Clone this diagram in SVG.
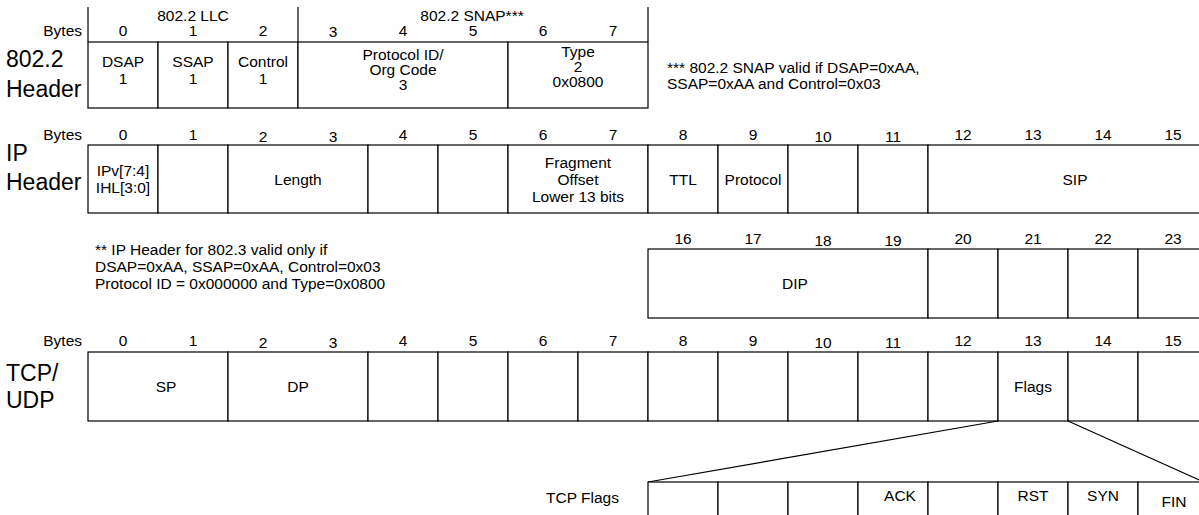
<svg xmlns="http://www.w3.org/2000/svg" width="1199" height="515" viewBox="0 0 1199 515">
<style>
.c{fill:#fff;stroke:#000;stroke-width:1.2}
.l{stroke:#000;stroke-width:1.2;fill:none}
text{font-family:"Liberation Sans",Arial,sans-serif;font-size:15.5px;fill:#000}
.m{text-anchor:middle}
.e{text-anchor:end}
.big{font-size:23px}
</style>
<rect width="1199" height="515" fill="#fff"/>

<g id="hdr8022">
<text class="big" x="6" y="67">802.2</text>
<text class="big" x="6" y="97">Header</text>
<text class="e" x="82" y="36">Bytes</text>
<text class="m" x="193" y="21">802.2 LLC</text>
<text class="m" x="472" y="21">802.2 SNAP***</text>
<text class="m" x="123" y="36">0</text><text class="m" x="193" y="36">1</text><text class="m" x="263" y="36">2</text><text class="m" x="333" y="37">3</text>
<text class="m" x="403" y="36">4</text><text class="m" x="473" y="36">5</text><text class="m" x="543" y="36">6</text><text class="m" x="613" y="36">7</text>
<line class="l" x1="88" y1="7" x2="88" y2="42"/><line class="l" x1="298" y1="7" x2="298" y2="42"/><line class="l" x1="648" y1="7" x2="648" y2="42"/>
</g>
<g id="dsap"><rect class="c" x="88" y="42" width="70" height="66"/><text class="m" x="123" y="67">DSAP</text><text class="m" x="123" y="84">1</text></g>
<g id="ssap"><rect class="c" x="158" y="42" width="70" height="66"/><text class="m" x="193" y="67">SSAP</text><text class="m" x="193" y="84">1</text></g>
<g id="control"><rect class="c" x="228" y="42" width="70" height="66"/><text class="m" x="263" y="67">Control</text><text class="m" x="263" y="84">1</text></g>
<g id="protoid"><rect class="c" x="298" y="42" width="210" height="66"/><text class="m" x="403" y="60">Protocol ID/</text><text class="m" x="403" y="75">Org Code</text><text class="m" x="403" y="90">3</text></g>
<g id="type"><rect class="c" x="508" y="42" width="140" height="66"/><text class="m" x="578" y="57">Type</text><text class="m" x="578" y="72">2</text><text class="m" x="578" y="87">0x0800</text></g>
<g id="snapnote"><text x="667" y="73">*** 802.2 SNAP valid if DSAP=0xAA,</text><text x="667" y="89">SSAP=0xAA and Control=0x03</text></g>

<g id="hdrip">
<text class="big" x="6" y="161">IP</text>
<text class="big" x="6" y="190">Header</text>
<text class="e" x="82" y="140">Bytes</text>
<text class="m" x="123" y="140">0</text><text class="m" x="193" y="140">1</text><text class="m" x="263" y="142">2</text><text class="m" x="333" y="142">3</text>
<text class="m" x="403" y="140">4</text><text class="m" x="473" y="140">5</text><text class="m" x="543" y="140">6</text><text class="m" x="613" y="140">7</text>
<text class="m" x="683" y="140">8</text><text class="m" x="753" y="140">9</text><text class="m" x="823" y="142">10</text><text class="m" x="893" y="142">11</text>
<text class="m" x="963" y="140">12</text><text class="m" x="1033" y="140">13</text><text class="m" x="1103" y="140">14</text><text class="m" x="1173" y="140">15</text>
</g>
<g id="ipv"><rect class="c" x="88" y="145" width="70" height="68"/><text class="m" x="123" y="176">IPv[7:4]</text><text class="m" x="123" y="193">IHL[3:0]</text></g>
<g id="ip1"><rect class="c" x="158" y="145" width="70" height="68"/></g>
<g id="length"><rect class="c" x="228" y="145" width="140" height="68"/><text class="m" x="298" y="185">Length</text></g>
<g id="ip4"><rect class="c" x="368" y="145" width="70" height="68"/></g>
<g id="ip5"><rect class="c" x="438" y="145" width="70" height="68"/></g>
<g id="frag"><rect class="c" x="508" y="145" width="140" height="68"/><text class="m" x="578" y="168">Fragment</text><text class="m" x="578" y="185">Offset</text><text class="m" x="578" y="202">Lower 13 bits</text></g>
<g id="ttl"><rect class="c" x="648" y="145" width="70" height="68"/><text class="m" x="683" y="185">TTL</text></g>
<g id="proto"><rect class="c" x="718" y="145" width="70" height="68"/><text class="m" x="753" y="185">Protocol</text></g>
<g id="ip10"><rect class="c" x="788" y="145" width="70" height="68"/></g>
<g id="ip11"><rect class="c" x="858" y="145" width="70" height="68"/></g>
<g id="sip"><rect class="c" x="928" y="145" width="290" height="68"/><text class="m" x="1075" y="185">SIP</text></g>

<g id="ipnote"><text x="95" y="255">** IP Header for 802.3 valid only if</text><text x="95" y="272">DSAP=0xAA, SSAP=0xAA, Control=0x03</text><text x="95" y="289">Protocol ID = 0x000000 and Type=0x0800</text></g>
<g id="hdrip2">
<text class="m" x="683" y="244">16</text><text class="m" x="753" y="244">17</text><text class="m" x="823" y="246">18</text><text class="m" x="893" y="246">19</text>
<text class="m" x="963" y="244">20</text><text class="m" x="1033" y="244">21</text><text class="m" x="1103" y="244">22</text><text class="m" x="1173" y="244">23</text>
</g>
<g id="dip"><rect class="c" x="648" y="249" width="280" height="69"/><text class="m" x="795" y="289">DIP</text></g>
<g id="ip20"><rect class="c" x="928" y="249" width="70" height="69"/></g>
<g id="ip21"><rect class="c" x="998" y="249" width="70" height="69"/></g>
<g id="ip22"><rect class="c" x="1068" y="249" width="70" height="69"/></g>
<g id="ip23"><rect class="c" x="1138" y="249" width="80" height="69"/></g>

<g id="hdrtcp">
<text class="big" x="6" y="381">TCP/</text>
<text class="big" x="6" y="408">UDP</text>
<text class="e" x="82" y="346">Bytes</text>
<text class="m" x="123" y="346">0</text><text class="m" x="193" y="346">1</text><text class="m" x="263" y="348">2</text><text class="m" x="333" y="348">3</text>
<text class="m" x="403" y="346">4</text><text class="m" x="473" y="346">5</text><text class="m" x="543" y="346">6</text><text class="m" x="613" y="346">7</text>
<text class="m" x="683" y="346">8</text><text class="m" x="753" y="346">9</text><text class="m" x="823" y="348">10</text><text class="m" x="893" y="348">11</text>
<text class="m" x="963" y="346">12</text><text class="m" x="1033" y="346">13</text><text class="m" x="1103" y="346">14</text><text class="m" x="1173" y="346">15</text>
</g>
<g id="sp"><rect class="c" x="88" y="352" width="140" height="69"/><text class="m" x="166" y="392">SP</text></g>
<g id="dp"><rect class="c" x="228" y="352" width="140" height="69"/><text class="m" x="298" y="392">DP</text></g>
<g id="t4"><rect class="c" x="368" y="352" width="70" height="69"/></g>
<g id="t5"><rect class="c" x="438" y="352" width="70" height="69"/></g>
<g id="t6"><rect class="c" x="508" y="352" width="70" height="69"/></g>
<g id="t7"><rect class="c" x="578" y="352" width="70" height="69"/></g>
<g id="t8"><rect class="c" x="648" y="352" width="70" height="69"/></g>
<g id="t9"><rect class="c" x="718" y="352" width="70" height="69"/></g>
<g id="t10"><rect class="c" x="788" y="352" width="70" height="69"/></g>
<g id="t11"><rect class="c" x="858" y="352" width="70" height="69"/></g>
<g id="t12"><rect class="c" x="928" y="352" width="70" height="69"/></g>
<g id="flags"><rect class="c" x="998" y="352" width="70" height="69"/><text class="m" x="1033" y="392">Flags</text></g>
<g id="t14"><rect class="c" x="1068" y="352" width="70" height="69"/></g>
<g id="t15"><rect class="c" x="1138" y="352" width="80" height="69"/></g>

<g id="connectors">
<line class="l" x1="998" y1="421" x2="648" y2="482"/>
<line class="l" x1="1068" y1="421" x2="1208" y2="484"/>
</g>

<g id="tcpflags">
<text class="e" x="619" y="503">TCP Flags</text>
<rect class="c" x="648" y="482" width="70" height="50"/>
<rect class="c" x="718" y="482" width="70" height="50"/>
<rect class="c" x="788" y="482" width="70" height="50"/>
<rect class="c" x="858" y="482" width="70" height="50"/>
<rect class="c" x="928" y="482" width="70" height="50"/>
<rect class="c" x="998" y="482" width="70" height="50"/>
<rect class="c" x="1068" y="482" width="70" height="50"/>
<rect class="c" x="1138" y="482" width="80" height="50"/>
<text class="m" x="900" y="501">ACK</text>
<text class="m" x="1033" y="501">RST</text>
<text class="m" x="1103" y="501">SYN</text>
<text class="m" x="1174" y="507">FIN</text>
</g>
</svg>
